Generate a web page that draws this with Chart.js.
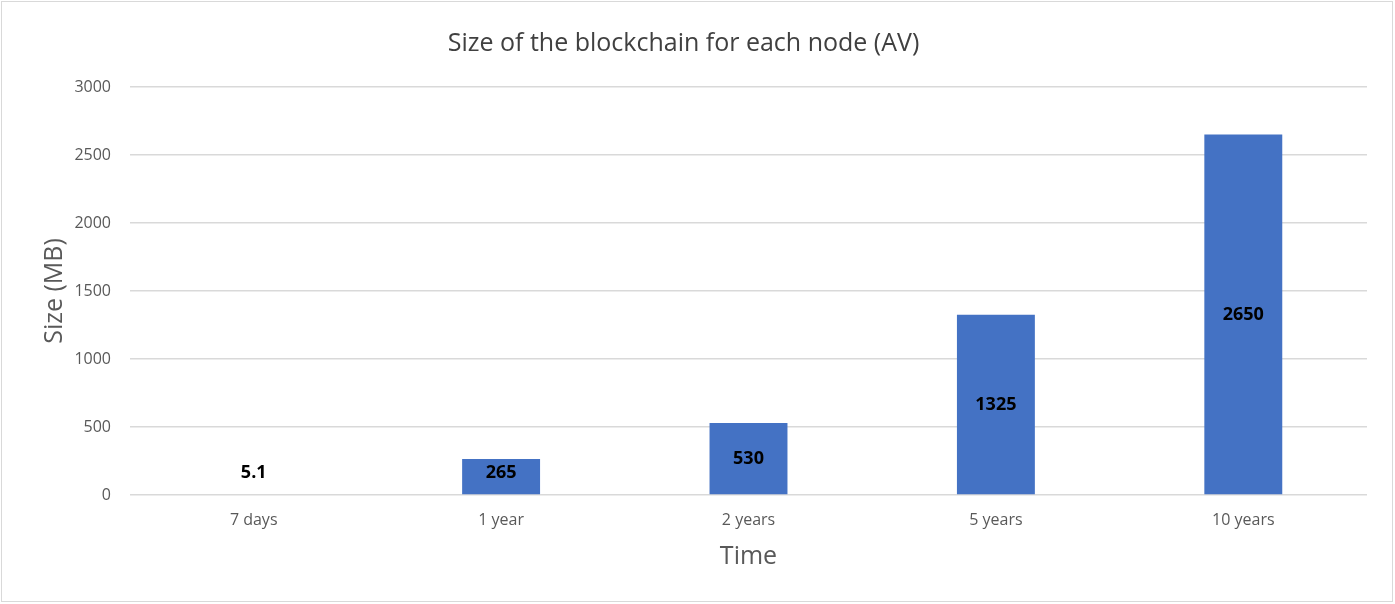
<!DOCTYPE html>
<html>
<head>
<meta charset="utf-8">
<script src="https://cdn.jsdelivr.net/npm/chart.js@4/dist/chart.umd.min.js"></script>
<style>
  html, body { margin: 0; padding: 0; background: #fff; }
  #wrap { position: relative; width: 1395px; height: 604px; }
  #c { position: absolute; left: 0; top: 0; }
  #frame { position: absolute; left: 1px; top: 1px; width: 1390px; height: 599px; border: 1.5px solid #d9d9d9; pointer-events: none; }
</style>
</head>
<body>
<div id="wrap">
  <canvas id="c" width="1395" height="604"></canvas>
  <div id="frame"></div>
</div>
<script>
const categories = ['7 days', '1 year', '2 years', '5 years', '10 years'];
const sizeMB = [5.1, 265, 530, 1325, 2650];
const valueLabels = ['5.1', '265', '530', '1325', '2650'];
const yTicks = [0, 500, 1000, 1500, 2000, 2500, 3000];

const FONT = "'Open Sans', 'Noto Sans', sans-serif";

const dataLabelPlugin = {
  id: 'dataLabels',
  afterDatasetsDraw(chart) {
    const ctx = chart.ctx;
    const meta = chart.getDatasetMeta(0);
    ctx.save();
    ctx.font = "bold 18px " + FONT;
    ctx.fillStyle = '#000000';
    ctx.textAlign = 'center';
    ctx.textBaseline = 'middle';
    meta.data.forEach((bar, i) => {
      const center = (bar.y + bar.base) / 2;
      const y = Math.min(center, bar.base - 21);
      ctx.fillText(valueLabels[i], bar.x, y);
    });
    ctx.restore();
  }
};

new Chart(document.getElementById('c'), {
  type: 'bar',
  data: {
    labels: categories,
    datasets: [{
      data: sizeMB,
      backgroundColor: '#4472C4',
      borderWidth: 0,
      barPercentage: 0.315,
      categoryPercentage: 1.0
    }]
  },
  options: {
    responsive: false,
    animation: false,
    layout: { padding: { left: 0, right: 28, top: 0, bottom: 0 } },
    plugins: {
      legend: { display: false },
      tooltip: { enabled: false },
      title: {
        display: true,
        text: 'Size of the blockchain for each node (AV)',
        color: '#404040',
        font: { family: FONT, size: 25, weight: 'normal' },
        padding: { top: 29, bottom: 28 }
      }
    },
    scales: {
      x: {
        grid: { display: false, drawTicks: false },
        border: { display: false },
        ticks: { color: '#595959', font: { family: FONT, size: 16 }, padding: 16 },
        title: {
          display: true,
          text: 'Time',
          color: '#595959',
          font: { family: FONT, size: 25 },
          padding: { top: 0, bottom: 32 }
        },
        afterFit(scale) { scale.height = 109; }
      },
      y: {
        min: 0,
        max: 3000,
        afterBuildTicks(scale) { scale.ticks = yTicks.map(v => ({ value: v })); },
        grid: { color: '#d9d9d9', lineWidth: 1.5, drawTicks: false },
        border: { display: false },
        ticks: {
          color: '#595959',
          font: { family: FONT, size: 16 },
          padding: 19,
          callback: (v) => String(v)
        },
        title: {
          display: true,
          text: 'Size (MB)',
          color: '#595959',
          font: { family: FONT, size: 25 },
          padding: { top: 40, bottom: 0 }
        },
        afterFit(scale) { scale.width = 130; }
      }
    }
  },
  plugins: [dataLabelPlugin]
});
</script>
</body>
</html>
